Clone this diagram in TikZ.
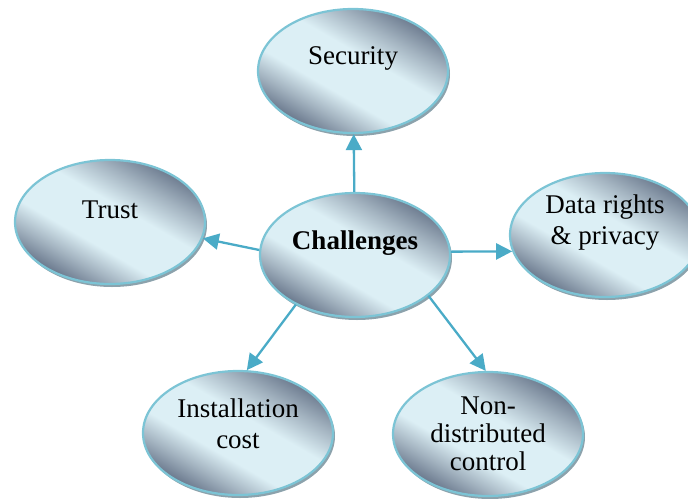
\documentclass[tikz,border=0pt]{standalone}
\usepackage{fontspec}
\setmainfont{Liberation Serif}
\usetikzlibrary{shapes.geometric,shadows,arrows.meta}
\definecolor{bdk}{HTML}{5E6C82}
\definecolor{bmid}{HTML}{A3B3C0}
\definecolor{blt}{HTML}{DCEFF5}
\definecolor{bbord}{HTML}{7CC4D5}
\definecolor{bshadow}{HTML}{8CA2AC}
\definecolor{arrc}{HTML}{4AABC7}
\pgfdeclareverticalshading{bubshade}{100bp}{color(0bp)=(bdk); color(24bp)=(bdk); color(33bp)=(bmid); color(41bp)=(blt); color(56bp)=(blt); color(66bp)=(bmid); color(77bp)=(bdk); color(100bp)=(bdk)}
\tikzset{
  bubble/.style={ellipse, draw=bbord, line width=2.2pt, minimum width=190pt,
    minimum height=124pt, inner sep=0pt, shading=bubshade, shading angle=-30,
    drop shadow={shadow xshift=2pt, shadow yshift=-3pt, fill=bshadow, opacity=1}},
  txt/.style={font=\fontsize{27}{31}\selectfont, align=center, inner sep=0pt},
  arr/.style={draw=arrc, line width=2.3pt, -{Triangle[length=16pt,width=16pt]}}
}
\begin{document}
\begin{tikzpicture}[x=1pt,y=-1pt]
\useasboundingbox (0,0) rectangle (688,498);
\node[bubble] (sec) at (353,71) {};
\node[bubble] (tr) at (110,222) {};
\node[bubble] (dr) at (605,235) {};
\node[bubble] (ic) at (238,433) {};
\node[bubble] (nd) at (488,434) {};
\node[bubble] (ch) at (355,255) {};
\node[txt] (secT) at ([yshift=13pt]sec.center) {Security};
\node[txt] (trT) at ([yshift=12pt]tr.center) {Trust};
\node[txt] (drT) at ([yshift=12pt]dr.center) {Data rights\\\& privacy};
\node[txt] (icT) at ([yshift=9pt]ic.center) {Installation\\cost};
\node[txt, font=\fontsize{27}{28}\selectfont] (ndT) at ([yshift=0pt]nd.center) {Non-\\distributed\\control};
\node[txt, font=\fontsize{27}{31}\selectfont\bfseries] (chT) at ([yshift=12pt]ch.center) {Challenges};
\draw[arr] (ch) -- (sec);
\draw[arr] (ch.177) -- (tr.-10);
\draw[arr] (ch.2) -- (dr.190);
\draw[arr] (ch.220) -- (ic.82);
\draw[arr] (ch.-29) -- (nd.92);
\end{tikzpicture}
\end{document}
